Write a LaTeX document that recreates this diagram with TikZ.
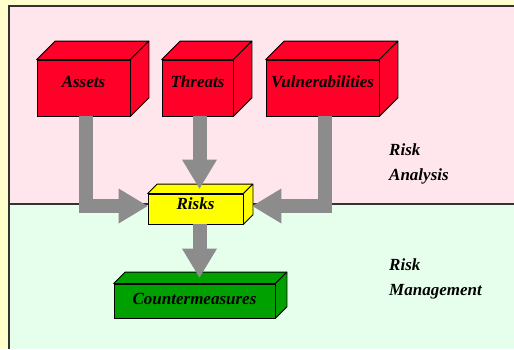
\documentclass[tikz,border=0pt]{standalone}
\usepackage{fontspec}
\setmainfont{Liberation Serif}
\usepackage{tikz}
\usetikzlibrary{arrows.meta, calc}
\definecolor{BoxRed}{HTML}{FF0028}
\definecolor{BoxYellow}{HTML}{FFFF00}
\definecolor{BoxGreen}{HTML}{00A000}
\definecolor{ArrowGray}{HTML}{8C8C8C}
\definecolor{PaneRose}{HTML}{FFE6EC}
\definecolor{PaneMint}{HTML}{E6FFEC}
\definecolor{EdgeCream}{HTML}{FFFFCC}

\begin{document}
\begin{tikzpicture}[x=1pt, y=-1pt,
    box/.style={draw=black, line width=0.8pt, inner sep=0pt, text height=10.5pt, font=\bfseries\itshape\fontsize{17}{19}\selectfont},
    flow/.style={draw=ArrowGray, line width=14pt, line join=miter, -{Triangle[length=29pt, width=35pt, line width=0pt]}},
    pane/.style={anchor=north west, align=left, inner sep=0pt, font=\bfseries\itshape\fontsize{17}{25}\selectfont}]
        \useasboundingbox (0,0) rectangle (514,349);

        % Background panes
        \fill[EdgeCream] (0,0) rectangle (514,349);
        \fill[PaneRose] (9,6) rectangle (514,204);
        \fill[PaneMint] (9,204) rectangle (514,349);
        \draw[line width=1.5pt, black!80] (514,6) -- (9,6) -- (9,349);
        \draw[line width=1.5pt, black!80] (9,204) -- (514,204);

        % Boxes (front faces)
        \node[box, fill=BoxRed, minimum width=93pt, minimum height=56pt, text depth=12pt] (assets) at (83.5,88) {Assets};
        \node[box, fill=BoxRed, minimum width=71pt, minimum height=56pt, text depth=12pt] (threats) at (197.5,88) {Threats};
        \node[box, fill=BoxRed, minimum width=113pt, minimum height=56pt, text depth=12pt] (vuln) at (322.5,88) {Vulnerabilities};
        \node[box, fill=BoxYellow, minimum width=95pt, minimum height=30pt, text depth=9.9pt] (risks) at (195.5,209) {Risks};
        \node[box, fill=BoxGreen, minimum width=161pt, minimum height=34pt, text depth=3.9pt] (counter) at (194.5,301) {Countermeasures};

        % Top and side faces
        \foreach \n/\d/\c in {assets/18.5/BoxRed, threats/18.5/BoxRed, vuln/18.5/BoxRed, risks/9.5/BoxYellow, counter/11.5/BoxGreen} {
            \draw[fill=\c, line width=0.8pt, line join=round] (\n.north west) -- ++(\d pt,\d pt) -- ([shift={(\d pt,\d pt)}]\n.north east) -- (\n.north east) -- cycle;
            \draw[fill=\c, line width=0.8pt, line join=round] (\n.north east) -- ++(\d pt,\d pt) -- ([shift={(\d pt,\d pt)}]\n.south east) -- (\n.south east) -- cycle;
        }

        % Arrows
        \draw[flow] ([xshift=2pt]assets.south) |- ([yshift=3pt]risks.west);
        \draw[flow] ([xshift=2pt]threats.south) -- ([xshift=4pt, yshift=5pt]risks.north);
        \draw[flow] ([xshift=2pt]vuln.south) |- ([xshift=9pt, yshift=3pt]risks.east);
        \draw[flow] ([xshift=4pt]risks.south) -- ([xshift=5pt, yshift=6pt]counter.north);

        % Pane labels
        \node[pane] (analysis) at (389,143) {Risk\\Analysis};
        \node[pane] (management) at (389,258) {Risk\\Management};
    \end{tikzpicture}
\end{document}
